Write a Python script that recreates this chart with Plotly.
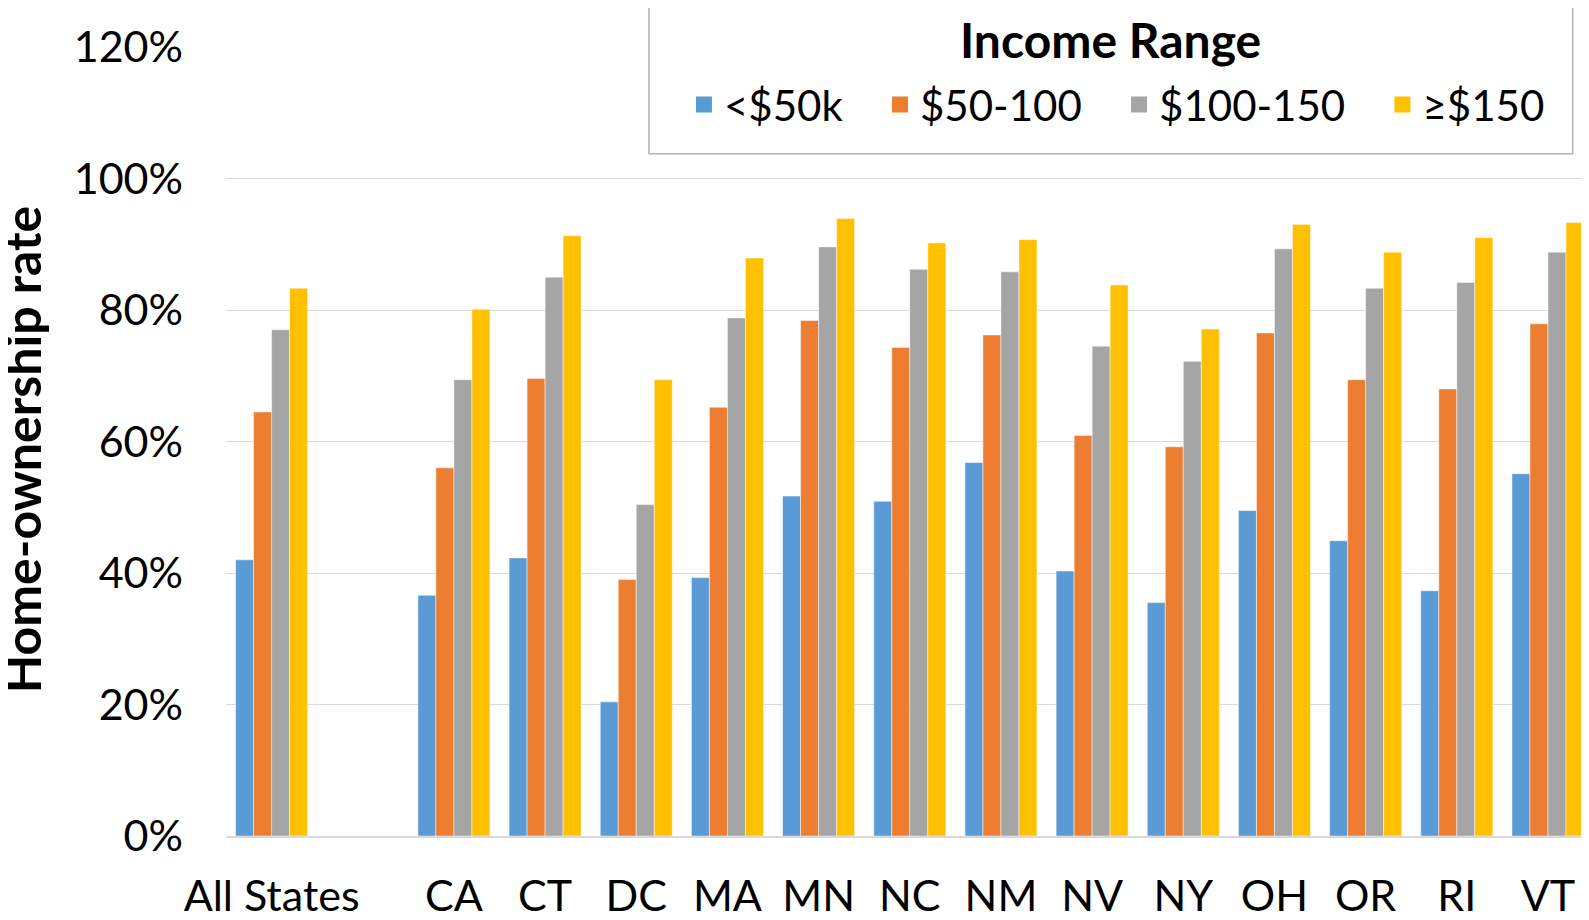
import plotly.graph_objects as go

# categories (blank slot separates the aggregate from the states)
categories = ['All States', ' ', 'CA', 'CT', 'DC', 'MA', 'MN', 'NC', 'NM', 'NV', 'NY', 'OH', 'OR', 'RI', 'VT']

under_50k = [42.0, None, 36.6, 42.3, 20.4, 39.3, 51.7, 50.9, 56.8, 40.3, 35.5, 49.5, 44.9, 37.3, 55.1]
from_50_100 = [64.5, None, 56.0, 69.6, 39.0, 65.2, 78.4, 74.3, 76.2, 60.9, 59.2, 76.5, 69.4, 68.0, 77.9]
from_100_150 = [77.0, None, 69.4, 85.0, 50.4, 78.8, 89.6, 86.2, 85.8, 74.5, 72.2, 89.3, 83.3, 84.2, 88.8]
over_150 = [83.3, None, 80.1, 91.3, 69.4, 87.9, 93.9, 90.2, 90.7, 83.8, 77.1, 93.0, 88.8, 91.0, 93.3]

series_names = ['<$50k', '$50-100', '$100-150', '≥$150']
colors = ['#5B9BD5', '#ED7D31', '#A5A5A5', '#FFC000']

font = 'Lato, Calibri, Carlito, sans-serif'
pad = '\u00a0' * 3  # extra room between legend entries

fig = go.Figure()
for name, vals, col in zip(series_names, [under_50k, from_50_100, from_100_150, over_150], colors):
    fig.add_trace(go.Bar(
        x=categories, y=vals, name=name, showlegend=False,
        marker=dict(color=col, line=dict(color='rgba(255,255,255,0.6)', width=0.8)),
    ))
# legend-only entries with bigger square swatches
for i, (name, col) in enumerate(zip(series_names, colors)):
    fig.add_trace(go.Scatter(
        x=[None], y=[None], mode='markers',
        name=name + (pad if i < len(series_names) - 1 else ''),
        marker=dict(symbol='square', size=16, color=col),
    ))

# legend frame and title
fig.add_shape(type='rect', xref='paper', yref='paper',
              x0=0.3103, x1=0.9881, y0=0.8647, y1=1.0524,
              fillcolor='white', line=dict(color='#b4b4b4', width=1.5), layer='above')
fig.add_annotation(text='<b>Income Range</b>', xref='paper', yref='paper',
                   x=0.6487, y=1.0093, showarrow=False, font=dict(size=48),
                   xanchor='center', yanchor='middle')
# y axis title
fig.add_annotation(text='<b>Home-ownership rate</b>', xref='paper', yref='paper',
                   x=-0.1495, y=0.4892, showarrow=False, textangle=-90,
                   font=dict(size=50), xanchor='center', yanchor='middle')

fig.update_layout(
    width=1581, height=912,
    barmode='group', bargap=0.21, bargroupgap=0,
    plot_bgcolor='white', paper_bgcolor='white',
    margin=dict(l=217.5, r=0, t=39, b=84.3, autoexpand=False),
    font=dict(family=font, size=43, color='black'),
    legend=dict(
        orientation='h',
        x=0.336, xanchor='left', y=0.9268, yanchor='middle',
        bgcolor='rgba(0,0,0,0)', borderwidth=0,
        font=dict(size=42),
        itemwidth=30, tracegroupgap=0,
    ),
)

fig.update_xaxes(
    range=[-0.5, 14.45], tickangle=0, automargin=False,
    showgrid=False, showline=True, linecolor='#d9d9d9', linewidth=1.5,
    ticks='', tickfont=dict(size=43), ticklabelstandoff=22,
)
fig.update_yaxes(
    range=[0, 120], dtick=20, ticksuffix='%', automargin=False,
    showgrid=True, gridcolor='#d9d9d9', gridwidth=1.2,
    zeroline=False, showline=False, ticks='',
    ticklabelstandoff=42, tickfont=dict(size=43),
)

fig.write_html('out.html')
